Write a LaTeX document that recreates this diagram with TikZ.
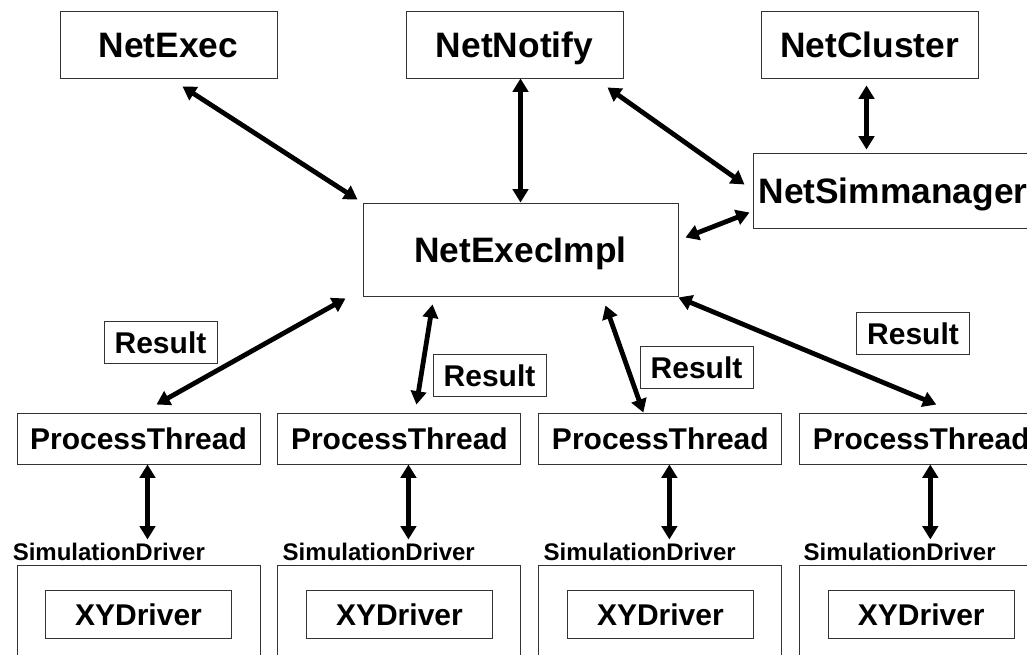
\documentclass[tikz,border=0pt]{standalone}
\usepackage{fontspec}
\setmainfont{Liberation Sans}
\usetikzlibrary{arrows.meta,positioning,calc}
\tikzset{
  box/.style={draw=black!80, line width=0.7pt, inner sep=0pt, align=center},
  topbox/.style={box, minimum width=162.75pt, minimum height=50.25pt,
                 text height=19pt, text depth=0pt,
                 font=\bfseries\fontsize{26.5}{30}\selectfont},
  ptbox/.style={box, minimum width=182.25pt, minimum height=38.25pt,
                text height=16pt, text depth=0pt,
                font=\bfseries\fontsize{22.5}{26}\selectfont},
  sdbox/.style={box, minimum width=182.25pt, minimum height=101.25pt},
  xybox/.style={box, minimum width=139.5pt, minimum height=36pt,
                text height=16pt, text depth=0pt,
                font=\bfseries\fontsize{22.5}{26}\selectfont},
  result/.style={box, minimum width=84.75pt, minimum height=31pt,
                 text height=16pt, text depth=0pt,
                 font=\bfseries\fontsize{22.5}{26}\selectfont},
  sdlabel/.style={anchor=base west, inner sep=0pt, font=\bfseries\fontsize{18}{20}\selectfont},
  link/.style={{Triangle[length=10pt,width=11.5pt]}-{Triangle[length=10pt,width=11.5pt]},
               line width=3.6pt},
}
\begin{document}
\begin{tikzpicture}[x=0.75pt,y=-0.75pt]
    \clip (0,0) rectangle (1027,655);
    % upper part
    \node[topbox] (netexec) at (168.5,44.5) {NetExec};
    \node[topbox] (notify) at (514.5,44.5) {NetNotify};
    \node[topbox] (cluster) at (869.5,44.5) {NetCluster};
    \node[topbox,minimum width=210pt,minimum height=56.25pt] (simman) at (893,190.5) {NetSimmanager};
    \node[topbox,minimum width=236.25pt,minimum height=69.75pt] (impl) at (520.5,249.5) {NetExecImpl};
    \draw[link] ($(netexec.south)+(14,8)$) -- ($(impl.north west)+(-5,-3)$);
    \draw[link] (impl.north |- notify.south) -- (impl.north);
    \draw[link] ($(notify.south east)+(-16,9)$) -- ($(simman.west)+(-8,-6)$);
    \draw[link] ($(cluster.south)+(-3,7)$) -- ($(cluster.south |- simman.north)+(-3,-3)$);
    \draw[link] ($(impl.east)+(7,-12)$) -- ($(simman.west)+(-3,22)$);
    % threads
    \node[ptbox] (pt1) at (138.5,438.5) {ProcessThread};
    \node[ptbox,right=12.75pt of pt1] (pt2) {ProcessThread};
    \node[ptbox,right=12.75pt of pt2] (pt3) {ProcessThread};
    \node[ptbox,right=12.75pt of pt3] (pt4) {ProcessThread};
    \node[result] (res1) at (160.5,342.5) {Result};
    \node[result] (res2) at (489.5,375.5) {Result};
    \node[result] (res3) at (696.5,367.5) {Result};
    \node[result] (res4) at (913,333.5) {Result};
    \draw[link] ($(impl.south west)+(-17,2)$) -- ($(pt1.north)+(18,-8)$);
    \draw[link] ($(impl.south west)+(70,8)$) -- ($(pt2.north)+(17,-8)$);
    \draw[link] ($(impl.south east)+(-73,9)$) -- ($(pt3.north)+(-17,0)$);
    \draw[link] ($(impl.south east)+(0,1)$) -- ($(pt4.north)+(15,-8)$);
    % drivers
    \node[sdbox,below=75.75pt of pt1] (sd1) {};
    \node[sdbox,below=75.75pt of pt2] (sd2) {};
    \node[sdbox,below=75.75pt of pt3] (sd3) {};
    \node[sdbox,below=75.75pt of pt4] (sd4) {};
    \node[xybox,below=18.75pt of sd1.north] (xy1) {XYDriver};
    \node[xybox,below=18.75pt of sd2.north] (xy2) {XYDriver};
    \node[xybox,below=18.75pt of sd3.north] (xy3) {XYDriver};
    \node[xybox,below=18.75pt of sd4.north] (xy4) {XYDriver};
    \node[sdlabel] (sdl1) at ($(sd1.north west)+(-4,-5)$) {SimulationDriver};
    \node[sdlabel] (sdl2) at ($(sd2.north west)+(5,-5)$) {SimulationDriver};
    \node[sdlabel] (sdl3) at ($(sd3.north west)+(5,-5)$) {SimulationDriver};
    \node[sdlabel] (sdl4) at ($(sd4.north west)+(4,-5)$) {SimulationDriver};
    \draw[link] ($(pt1.south)+(9,0)$) -- ($(pt1.south |- sd1.north)+(9,-26)$);
    \draw[link] ($(pt2.south)+(9,0)$) -- ($(pt2.south |- sd2.north)+(9,-26)$);
    \draw[link] ($(pt3.south)+(9,0)$) -- ($(pt3.south |- sd3.north)+(9,-26)$);
    \draw[link] ($(pt4.south)+(9,0)$) -- ($(pt4.south |- sd4.north)+(9,-26)$);
\end{tikzpicture}
\end{document}
